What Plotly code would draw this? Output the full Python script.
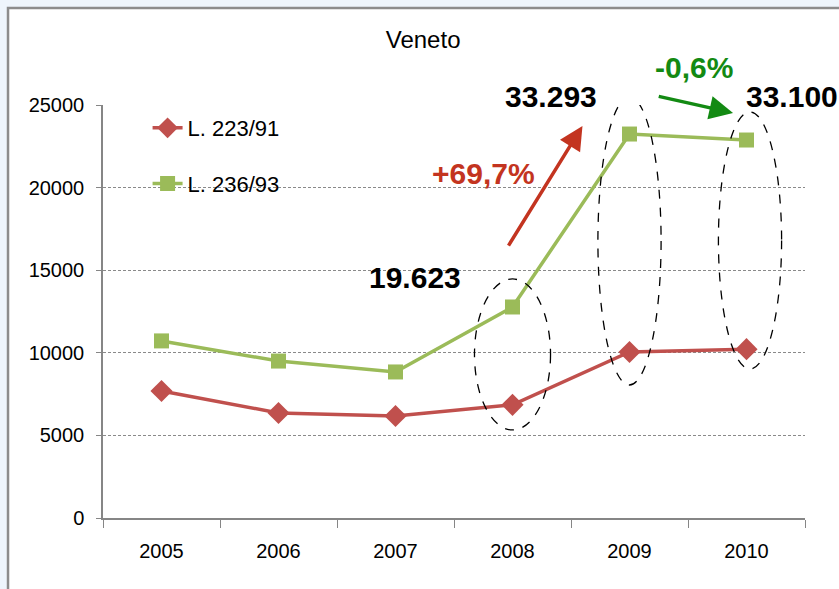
import plotly.graph_objects as go

years = ["2005", "2006", "2007", "2008", "2009", "2010"]
l223 = [7690, 6360, 6170, 6850, 10050, 10220]
l236 = [10720, 9500, 8840, 12773, 23243, 22880]
series_names = ["L. 223/91", "L. 236/93"]
y_ticks = [0, 5000, 10000, 15000, 20000, 25000]

total_labels = ["19.623", "33.293", "33.100"]
pct_labels = ["+69,7%", "-0,6%"]

FONT = "Liberation Sans, Arial, sans-serif"
RED = "#C0504D"
GREEN = "#9BBB59"
ARROW_RED = "#C33420"
ARROW_GREEN = "#138A13"
BG = "#EEF5FC"

fig = go.Figure()
fig.add_trace(go.Scatter(
    x=years, y=l223, name=series_names[0], mode="lines+markers", legendgroup="a",
    line=dict(color=RED, width=3.5),
    marker=dict(symbol="diamond", size=17, color=RED),
))
fig.add_trace(go.Scatter(
    x=years, y=l236, name=series_names[1], mode="lines+markers", legendgroup="b",
    line=dict(color=GREEN, width=3.5),
    marker=dict(symbol="square", size=15, color=GREEN),
))

# frame
fig.add_shape(type="rect", xref="paper", yref="paper",
              x0=-0.1353, x1=1.2, y0=-0.3, y1=1.2349,
              fillcolor="white", line=dict(color="#8C8C8C", width=2.5), layer="below")

# dashed ellipses around highlighted years
ell = [(2.675, 3.325, 5330, 14470), (3.73, 4.27, 8050, 25480), (4.76, 5.30, 9020, 24580)]
for x0, x1, y0, y1 in ell:
    fig.add_shape(type="circle", xref="x", yref="y", x0=x0, x1=x1, y0=y0, y1=y1,
                  line=dict(color="black", width=1.3, dash="dash"))

bold_black = dict(family=FONT, size=30, color="black", weight="bold")
fig.add_annotation(x=2.165, y=14530, xref="x", yref="y", text=total_labels[0],
                   xanchor="center", yanchor="middle", showarrow=False, font=bold_black)
fig.add_annotation(x=3.333, y=1.0194, xref="x", yref="paper", text=total_labels[1],
                   xanchor="center", yanchor="middle", showarrow=False, font=bold_black)
fig.add_annotation(x=4.975, y=1.0194, xref="x", yref="paper", text=total_labels[2],
                   xanchor="left", yanchor="middle", showarrow=False, font=bold_black)
fig.add_annotation(x=2.75, y=20880, xref="x", yref="y", text=pct_labels[0], showarrow=False,
                   xanchor="center", yanchor="middle",
                   font=dict(family=FONT, size=30, color=ARROW_RED, weight="bold"))
fig.add_annotation(x=4.552, y=1.092, xref="x", yref="paper", text=pct_labels[1], showarrow=False,
                   xanchor="center", yanchor="middle",
                   font=dict(family=FONT, size=30, color=ARROW_GREEN, weight="bold"))
# arrows
fig.add_annotation(x=3.598, y=23730, ax=2.958, ay=16400, xref="x", yref="y", axref="x", ayref="y",
                   text="", showarrow=True, arrowhead=2, arrowsize=1.35, arrowwidth=3.5,
                   arrowcolor=ARROW_RED)
fig.add_annotation(x=4.885, y=24516, ax=4.237, ay=25545, xref="x", yref="y", axref="x", ayref="y",
                   text="", showarrow=True, arrowhead=2, arrowsize=1.35, arrowwidth=3.5,
                   arrowcolor=ARROW_GREEN)

fig.update_layout(
    width=839, height=589,
    margin=dict(l=103, r=34, t=105, b=71),
    paper_bgcolor=BG,
    plot_bgcolor="rgba(0,0,0,0)",
    font=dict(family=FONT, color="black"),
    title=dict(text="Veneto", x=0.456, xref="paper", y=1 - 40 / 589, yref="container",
               xanchor="center", yanchor="middle",
               font=dict(family=FONT, size=24, color="black")),
    showlegend=True,
    legend=dict(x=0.0635, y=0.995, xanchor="left", yanchor="top", bgcolor="rgba(0,0,0,0)",
                tracegroupgap=24, font=dict(family=FONT, size=22, color="black")),
    xaxis=dict(type="category", tickson="boundaries", ticks="outside", ticklen=8,
               tickcolor="#868686", showline=True, linecolor="#868686", linewidth=1.5,
               showgrid=False, ticklabelstandoff=14,
               tickfont=dict(family=FONT, size=20, color="black"),
               range=[-0.5, 5.5]),
    yaxis=dict(range=[0, 25000], tickvals=y_ticks, tickformat="d", ticks="outside", ticklen=5,
               tickcolor="#868686", showline=True, linecolor="#868686", linewidth=1.5,
               showgrid=True, gridcolor="#8A8A8A", gridwidth=1, griddash="3px,2px",
               zeroline=False, ticklabelstandoff=8,
               tickfont=dict(family=FONT, size=20, color="black")),
)

fig.write_html("out.html", config={"displayModeBar": False},
               post_script="document.body.style.margin='0';document.body.style.background='%s';" % BG)
